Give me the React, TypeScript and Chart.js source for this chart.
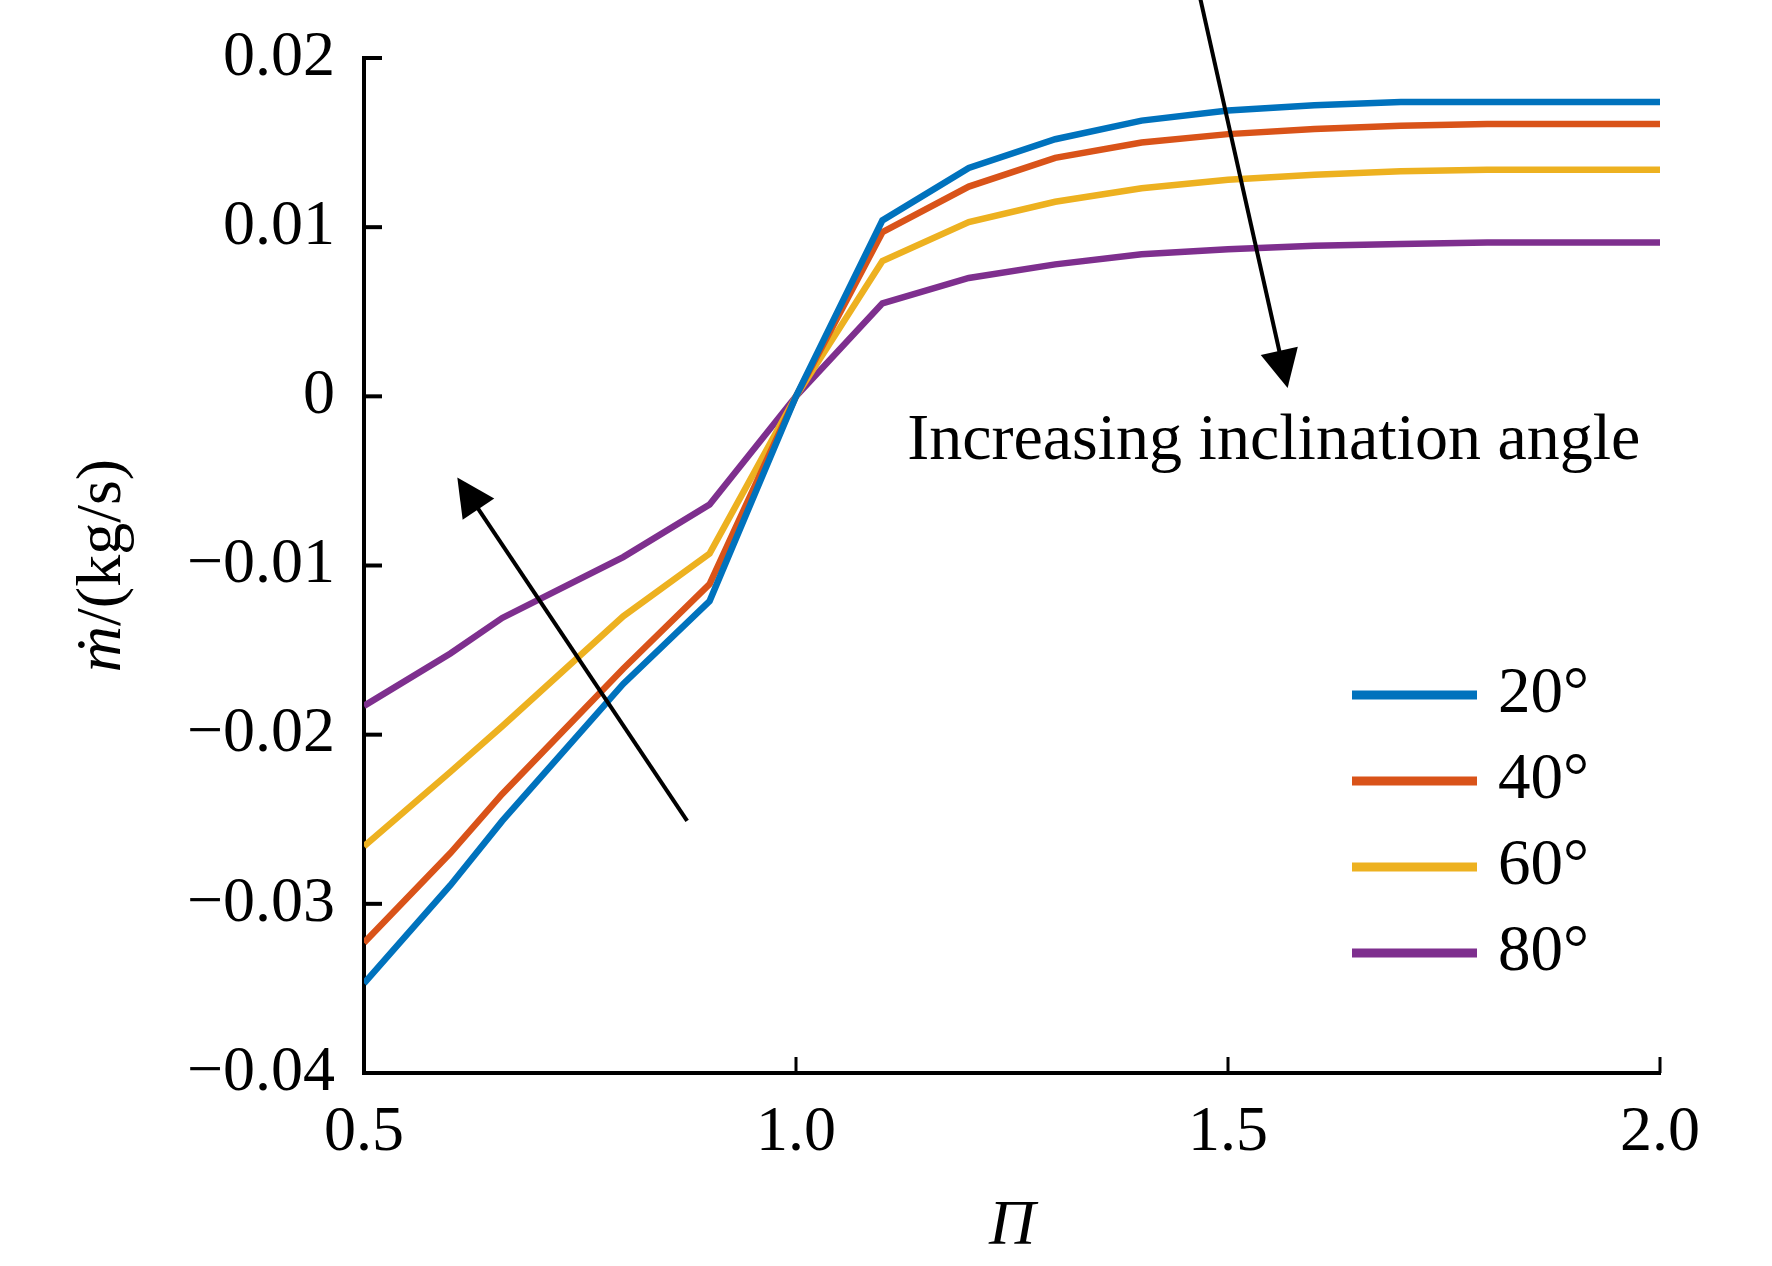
import { useEffect, useRef } from "react"
import { Chart, registerables } from "chart.js"

Chart.register(...registerables)

// pressure ratio values along the x axis
const piValues = [0.5, 0.6, 0.66, 0.8, 0.9, 1.0, 1.1, 1.2, 1.3, 1.4, 1.5, 1.6, 1.7, 1.8, 1.9, 2.0]

// mass flow rate (kg/s) for each inclination angle
const flow20 = [-0.0347, -0.0289, -0.0251, -0.0170, -0.0121, 0, 0.0104, 0.0135, 0.0152, 0.0163, 0.0169, 0.0172, 0.0174, 0.0174, 0.0174, 0.0174]
const flow40 = [-0.0323, -0.0270, -0.0235, -0.0161, -0.0111, 0, 0.0097, 0.0124, 0.0141, 0.0150, 0.0155, 0.0158, 0.0160, 0.0161, 0.0161, 0.0161]
const flow60 = [-0.0266, -0.0222, -0.0195, -0.0130, -0.0093, 0, 0.0080, 0.0103, 0.0115, 0.0123, 0.0128, 0.0131, 0.0133, 0.0134, 0.0134, 0.0134]
const flow80 = [-0.0183, -0.0152, -0.0131, -0.0095, -0.0064, 0, 0.0055, 0.0070, 0.0078, 0.0084, 0.0087, 0.0089, 0.0090, 0.0091, 0.0091, 0.0091]

const seriesLabels = ["20°", "40°", "60°", "80°"]
const seriesColors = ["#0072BD", "#D95319", "#EDB120", "#7E2F8E"]

const xTicks = [0.5, 1.0, 1.5, 2.0]
const yTicks = [-0.04, -0.03, -0.02, -0.01, 0, 0.01, 0.02]

// annotation arrows in data units: [fromPi, fromFlow, toPi, toFlow]
const arrowUp = [0.874, -0.0251, 0.608, -0.0048]
const arrowDown = [1.457, 0.026, 1.569, 0.0005]
const noteText = "Increasing inclination angle"
const notePos = [1.553, -0.0037]

const FONT = '"Liberation Serif", "Times New Roman", serif'

function drawArrow(ctx: CanvasRenderingContext2D, x1: number, y1: number, x2: number, y2: number) {
  const ang = Math.atan2(y2 - y1, x2 - x1)
  const headLen = 38
  const headHalf = 19
  const bx = x2 - headLen * Math.cos(ang)
  const by = y2 - headLen * Math.sin(ang)
  ctx.strokeStyle = "#000"
  ctx.lineWidth = 4
  ctx.beginPath()
  ctx.moveTo(x1, y1)
  ctx.lineTo(bx + 4 * Math.cos(ang), by + 4 * Math.sin(ang))
  ctx.stroke()
  ctx.fillStyle = "#000"
  ctx.beginPath()
  ctx.moveTo(x2, y2)
  ctx.lineTo(bx + headHalf * Math.sin(ang), by - headHalf * Math.cos(ang))
  ctx.lineTo(bx - headHalf * Math.sin(ang), by + headHalf * Math.cos(ang))
  ctx.closePath()
  ctx.fill()
}

const decorations = {
  id: "decorations",
  afterDraw(chart: any) {
    const { ctx, chartArea, scales } = chart
    const xs = scales.x
    const ys = scales.y
    ctx.save()

    // inward tick marks
    ctx.strokeStyle = "#000"
    ctx.lineWidth = 4
    ys.ticks.forEach((t: any) => {
      const y = ys.getPixelForValue(t.value)
      ctx.beginPath()
      ctx.moveTo(chartArea.left, y)
      ctx.lineTo(chartArea.left + 18, y)
      ctx.stroke()
    })
    ctx.lineWidth = 3
    xs.ticks.forEach((t: any) => {
      const x = xs.getPixelForValue(t.value)
      ctx.beginPath()
      ctx.moveTo(x, chartArea.bottom)
      ctx.lineTo(x, chartArea.bottom - 16)
      ctx.stroke()
    })

    // axis titles
    ctx.fillStyle = "#000"
    ctx.textBaseline = "alphabetic"
    ctx.textAlign = "center"
    ctx.font = `italic 64px ${FONT}`
    ctx.fillText("Π", (chartArea.left + chartArea.right) / 2, 1244)

    ctx.save()
    ctx.font = `italic 64px ${FONT}`
    const w1 = ctx.measureText("ṁ").width
    ctx.font = `64px ${FONT}`
    const w2 = ctx.measureText("/(kg/s)").width
    ctx.translate(120, (chartArea.top + chartArea.bottom) / 2)
    ctx.rotate(-Math.PI / 2)
    ctx.textAlign = "left"
    const x0 = -(w1 + w2) / 2
    ctx.font = `italic 64px ${FONT}`
    ctx.fillText("ṁ", x0, 0)
    ctx.font = `64px ${FONT}`
    ctx.fillText("/(kg/s)", x0 + w1, 0)
    ctx.restore()

    // legend
    chart.data.datasets.forEach((ds: any, i: number) => {
      const y = 695 + i * 86
      ctx.strokeStyle = ds.borderColor
      ctx.lineWidth = 9
      ctx.beginPath()
      ctx.moveTo(1352, y)
      ctx.lineTo(1477, y)
      ctx.stroke()
      ctx.fillStyle = "#000"
      ctx.font = `65px ${FONT}`
      ctx.textAlign = "left"
      ctx.textBaseline = "middle"
      ctx.fillText(ds.label, 1498, y)
    })

    // annotation
    drawArrow(ctx, xs.getPixelForValue(arrowUp[0]), ys.getPixelForValue(arrowUp[1]), xs.getPixelForValue(arrowUp[2]), ys.getPixelForValue(arrowUp[3]))
    drawArrow(ctx, xs.getPixelForValue(arrowDown[0]), ys.getPixelForValue(arrowDown[1]), xs.getPixelForValue(arrowDown[2]), ys.getPixelForValue(arrowDown[3]))
    ctx.fillStyle = "#000"
    ctx.font = `66px ${FONT}`
    ctx.textAlign = "center"
    ctx.textBaseline = "alphabetic"
    ctx.fillText(noteText, xs.getPixelForValue(notePos[0]), ys.getPixelForValue(notePos[1]))

    ctx.restore()
  },
}

export default function App() {
  const chartRef = useRef<HTMLCanvasElement>(null)
  const chartInstance = useRef<Chart | null>(null)

  useEffect(() => {
    document.body.style.margin = "0"
    if (!chartRef.current) return
    const ctx = chartRef.current.getContext("2d")
    if (!ctx) return

    if (chartInstance.current) {
      chartInstance.current.destroy()
    }

    const series = [flow20, flow40, flow60, flow80]

    chartInstance.current = new Chart(ctx, {
      type: "line",
      data: {
        datasets: series.map((vals, i) => ({
          label: seriesLabels[i],
          data: vals.map((v, j) => ({ x: piValues[j], y: v })),
          borderColor: seriesColors[i],
          backgroundColor: seriesColors[i],
          borderWidth: 6.5,
          pointRadius: 0,
          tension: 0,
          fill: false,
        })),
      },
      options: {
        responsive: true,
        maintainAspectRatio: false,
        animation: false,
        layout: { padding: { left: 0, top: 58, right: 112, bottom: 0 } },
        plugins: {
          legend: { display: false },
          tooltip: { enabled: false },
        },
        scales: {
          x: {
            type: "linear",
            min: 0.5,
            max: 2.0,
            afterBuildTicks: (scale: any) => {
              scale.ticks = xTicks.map((v) => ({ value: v }))
            },
            afterFit: (scale: any) => {
              scale.height = 193
            },
            grid: { display: true, drawOnChartArea: false, drawTicks: false },
            border: { display: true, color: "#000", width: 4 },
            ticks: {
              padding: 22,
              color: "#000",
              font: { family: FONT, size: 64 },
              callback: (v: any) => Number(v).toFixed(1),
            },
          },
          y: {
            type: "linear",
            min: -0.04,
            max: 0.02,
            afterBuildTicks: (scale: any) => {
              scale.ticks = yTicks.map((v) => ({ value: v }))
            },
            afterFit: (scale: any) => {
              scale.width = 364
              scale.paddingTop = 0
              scale.paddingBottom = 0
            },
            grid: { display: true, drawOnChartArea: false, drawTicks: false },
            border: { display: true, color: "#000", width: 4 },
            ticks: {
              padding: 29,
              color: "#000",
              font: { family: FONT, size: 64 },
              callback: (v: any) => {
                const n = Number(v)
                if (Math.abs(n) < 1e-9) return "0"
                return n.toFixed(2).replace("-", "\u2212")
              },
            },
          },
        },
      },
      plugins: [decorations],
    })

    return () => {
      if (chartInstance.current) {
        chartInstance.current.destroy()
        chartInstance.current = null
      }
    }
  }, [])

  return (
    <div style={{ width: 1772, height: 1266, position: "relative", background: "#fff" }}>
      <canvas ref={chartRef} />
    </div>
  )
}
